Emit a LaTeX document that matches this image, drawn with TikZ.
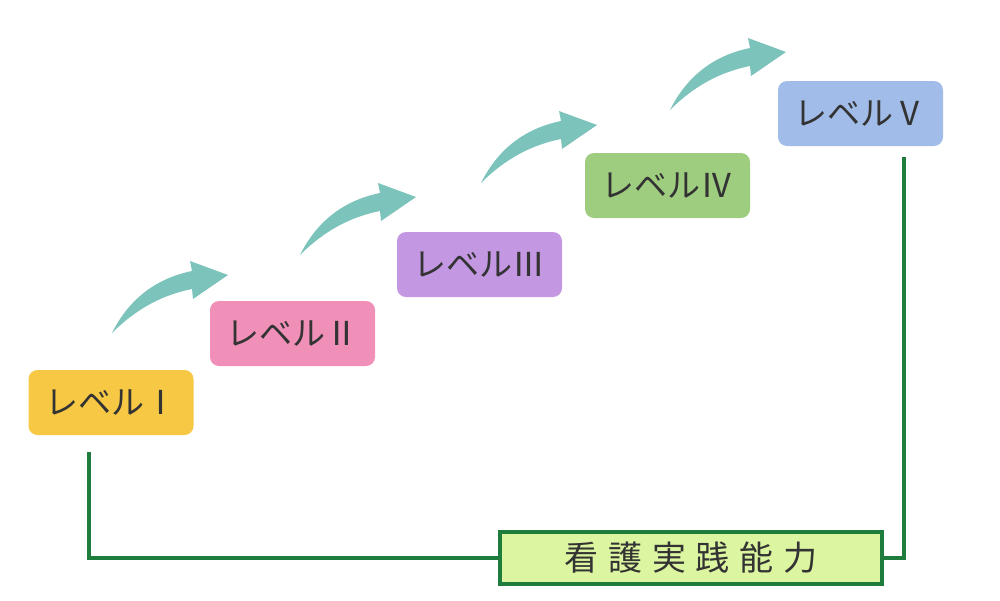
\documentclass[tikz,border=0pt]{standalone}
\usepackage{fontspec}
\newfontfamily\jp{Noto Sans CJK JP}
\definecolor{txt}{HTML}{333333}
\definecolor{cI}{HTML}{F7C844}
\definecolor{cII}{HTML}{F08FB8}
\definecolor{cIII}{HTML}{C497E3}
\definecolor{cIV}{HTML}{9FCD80}
\definecolor{cV}{HTML}{A1BCE8}
\definecolor{teal}{HTML}{7CC3BB}
\definecolor{lgreen}{HTML}{1E7D3D}
\definecolor{lime}{HTML}{DCF5A0}
\tikzset{
  level/.style={rounded corners=9pt, minimum width=165pt, minimum height=65pt,
    inner sep=0pt, text=txt, font=\jp\fontsize{33}{40}\selectfont},
  skill/.style={draw=lgreen, line width=3.5pt, fill=lime, minimum width=382pt,
    minimum height=52pt, inner sep=0pt, text=txt, font=\jp\fontsize{34}{40}\selectfont},
  link/.style={draw=lgreen, line width=3.5pt},
  bigarrow/.style={fill=teal, draw=none}
}
\newcommand{\curvearrow}[1]{%
  \fill[bigarrow, shift={#1}] (0,0) .. controls (18,-36) and (46,-55) .. (80,-62)
    -- (78,-72) -- (116,-58) -- (81,-34) -- (80,-44)
    .. controls (50,-38) and (24,-24) .. (0,0) -- cycle;}
\begin{document}
\begin{tikzpicture}[x=1pt,y=-1pt]
\useasboundingbox (0,0) rectangle (1000,600);
\node[level, fill=cI]   (l1) at (111,402.5) {レベルⅠ};
\node[level, fill=cII]  (l2) at (292.5,333.5) {レベルⅡ};
\node[level, fill=cIII] (l3) at (479.5,264.5) {レベルⅢ};
\node[level, fill=cIV]  (l4) at (667.5,185.5) {レベルⅣ};
\node[level, fill=cV]   (l5) at (860.5,113.5) {レベルⅤ};
\curvearrow{(112,333)}
\curvearrow{(300,255)}
\curvearrow{(481,183)}
\curvearrow{(670,110)}
\node[skill] (sk) at (691,558) {看\hspace{10pt}護\hspace{10pt}実\hspace{10pt}践\hspace{10pt}能\hspace{10pt}力};
\coordinate (a) at (89,452);
\coordinate (b) at (904,157);
\draw[link] (a) |- (sk.west);
\draw[link] (sk.east) -| (b);
\end{tikzpicture}
\end{document}
